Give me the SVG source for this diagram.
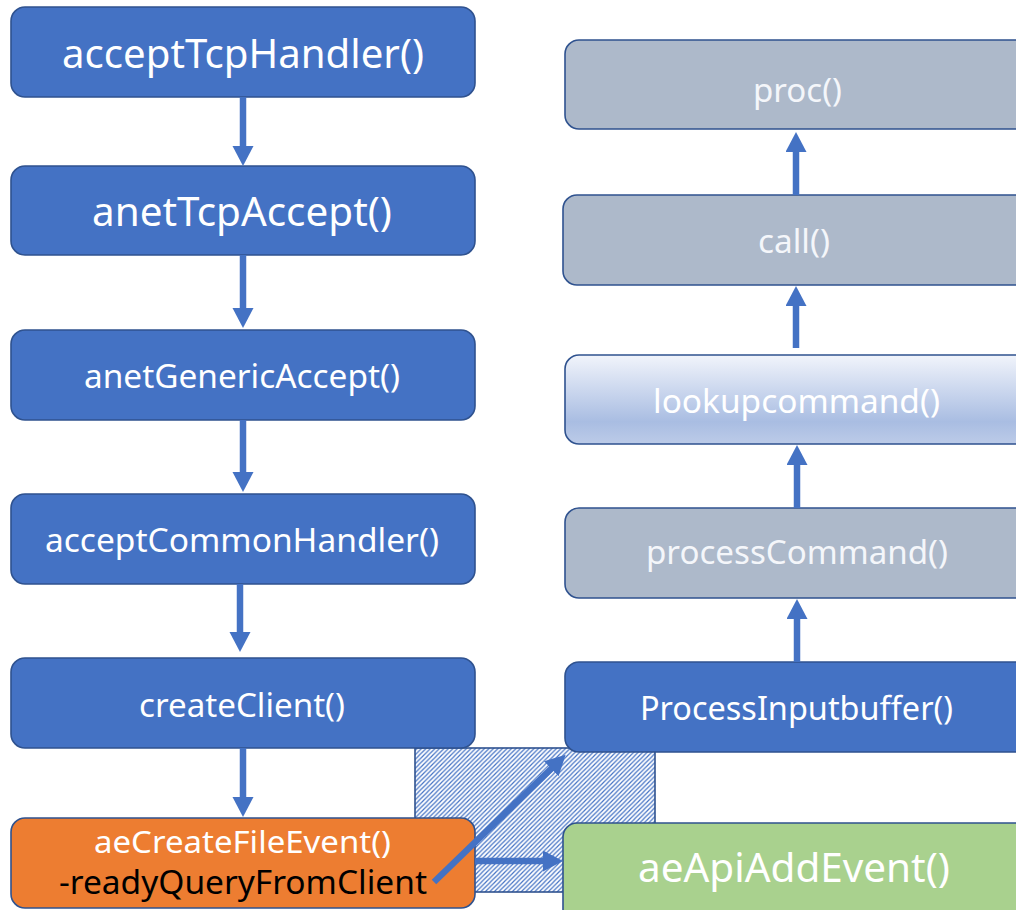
<svg xmlns="http://www.w3.org/2000/svg" width="1016" height="910" viewBox="0 0 1016 910">
<style>
.box{stroke:#2F528F;stroke-width:1.6}
.blue{fill:#4472C4}
.gray{fill:#ADB9CA}
.orange{fill:#ED7D31}
.green{fill:#A9D18E}
.t{font-family:"Noto Sans","Open Sans","DejaVu Sans",sans-serif;fill:#FFFFFF;text-anchor:middle}
.big{font-size:40px}
.mid{font-size:32px}
.lite{fill:#F4F6FA}
.conn{stroke:#4472C4;stroke-width:6.5;fill:none;marker-end:url(#ah)}
</style>
<defs>
<marker id="ah" markerUnits="userSpaceOnUse" markerWidth="22" markerHeight="22" refX="1" refY="10.5" orient="auto">
<path d="M0,0 L20,10.5 L0,21 Z" fill="#4472C4"/>
</marker>
<pattern id="hatch" patternUnits="userSpaceOnUse" width="4.5" height="4.5">
<rect width="4.5" height="4.5" fill="#FFFFFF"/>
<path d="M-1,1 L1,-1 M0,4.5 L4.5,0 M3.5,5.5 L5.5,3.5" stroke="#4472C4" stroke-width="1.2"/>
</pattern>
<linearGradient id="lg" x1="0" y1="0" x2="0" y2="1">
<stop offset="0" stop-color="#F1F4FB"/>
<stop offset="0.75" stop-color="#A9BDE2"/>
<stop offset="1" stop-color="#BCCBE8"/>
</linearGradient>
</defs>

<g id="overlap-area">
<rect x="415" y="748" width="240" height="144" fill="url(#hatch)" stroke="#2F528F" stroke-width="1.6"/>
</g>

<g id="node-acceptTcpHandler">
<rect class="box blue" x="11" y="7" width="464" height="90" rx="14"/>
<text class="t big" x="243" y="68" textLength="362" lengthAdjust="spacingAndGlyphs">acceptTcpHandler()</text>
</g>
<g id="node-anetTcpAccept">
<rect class="box blue" x="11" y="166" width="464" height="89" rx="14"/>
<text class="t big" x="242" y="226" textLength="300" lengthAdjust="spacingAndGlyphs">anetTcpAccept()</text>
</g>
<g id="node-anetGenericAccept">
<rect class="box blue" x="11" y="330" width="464" height="90" rx="14"/>
<text class="t mid" x="242" y="388" textLength="316" lengthAdjust="spacingAndGlyphs">anetGenericAccept()</text>
</g>
<g id="node-acceptCommonHandler">
<rect class="box blue" x="11" y="494" width="464" height="90" rx="14"/>
<text class="t mid" x="242" y="552" textLength="394" lengthAdjust="spacingAndGlyphs">acceptCommonHandler()</text>
</g>
<g id="node-createClient">
<rect class="box blue" x="11" y="658" width="464" height="90" rx="14"/>
<text class="t mid" x="242" y="717" textLength="206" lengthAdjust="spacingAndGlyphs">createClient()</text>
</g>
<g id="node-aeCreateFileEvent">
<rect class="box orange" x="11" y="818" width="464" height="90" rx="14"/>
<text class="t" style="font-size:31px" x="242.5" y="853" textLength="297" lengthAdjust="spacingAndGlyphs">aeCreateFileEvent()</text>
<text class="t" style="font-size:33px;fill:#000000" x="243" y="894" textLength="368" lengthAdjust="spacingAndGlyphs">-readyQueryFromClient</text>
</g>

<g id="node-proc">
<rect class="box gray" x="565" y="40" width="470" height="89" rx="14"/>
<text class="t mid lite" x="797.5" y="102" textLength="89" lengthAdjust="spacingAndGlyphs">proc()</text>
</g>
<g id="node-call">
<rect class="box gray" x="563" y="195" width="472" height="90" rx="14"/>
<text class="t mid lite" x="794" y="253" textLength="72" lengthAdjust="spacingAndGlyphs">call()</text>
</g>
<g id="node-lookupcommand">
<rect class="box" fill="url(#lg)" x="565" y="355" width="470" height="89" rx="14"/>
<text class="t mid" x="796.5" y="413" textLength="287" lengthAdjust="spacingAndGlyphs">lookupcommand()</text>
</g>
<g id="node-processCommand">
<rect class="box gray" x="565" y="508" width="470" height="90" rx="14"/>
<text class="t mid lite" x="797" y="564" textLength="302" lengthAdjust="spacingAndGlyphs">processCommand()</text>
</g>
<g id="node-ProcessInputbuffer">
<rect class="box blue" x="565" y="662" width="470" height="90" rx="14"/>
<text class="t mid" x="796.5" y="720" textLength="313" lengthAdjust="spacingAndGlyphs">ProcessInputbuffer()</text>
</g>
<g id="node-aeApiAddEvent">
<rect class="box green" x="563" y="823" width="472" height="100" rx="14"/>
<text class="t big" x="794" y="882" textLength="312" lengthAdjust="spacingAndGlyphs">aeApiAddEvent()</text>
</g>

<g id="connectors">
<line class="conn" x1="243" y1="97" x2="243" y2="147"/>
<line class="conn" x1="243" y1="255" x2="243" y2="309"/>
<line class="conn" x1="243" y1="420" x2="243" y2="473"/>
<line class="conn" x1="240" y1="584" x2="240" y2="633"/>
<line class="conn" x1="243" y1="748" x2="243" y2="798"/>
<line class="conn" x1="797" y1="662" x2="797" y2="618"/>
<line class="conn" x1="797" y1="508" x2="797" y2="464"/>
<line class="conn" x1="796" y1="348" x2="796" y2="305"/>
<line class="conn" x1="796" y1="195" x2="796" y2="151"/>
<line class="conn" x1="475" y1="861" x2="544" y2="861"/>
<line class="conn" x1="434" y1="882" x2="552" y2="768"/>
</g>
</svg>
